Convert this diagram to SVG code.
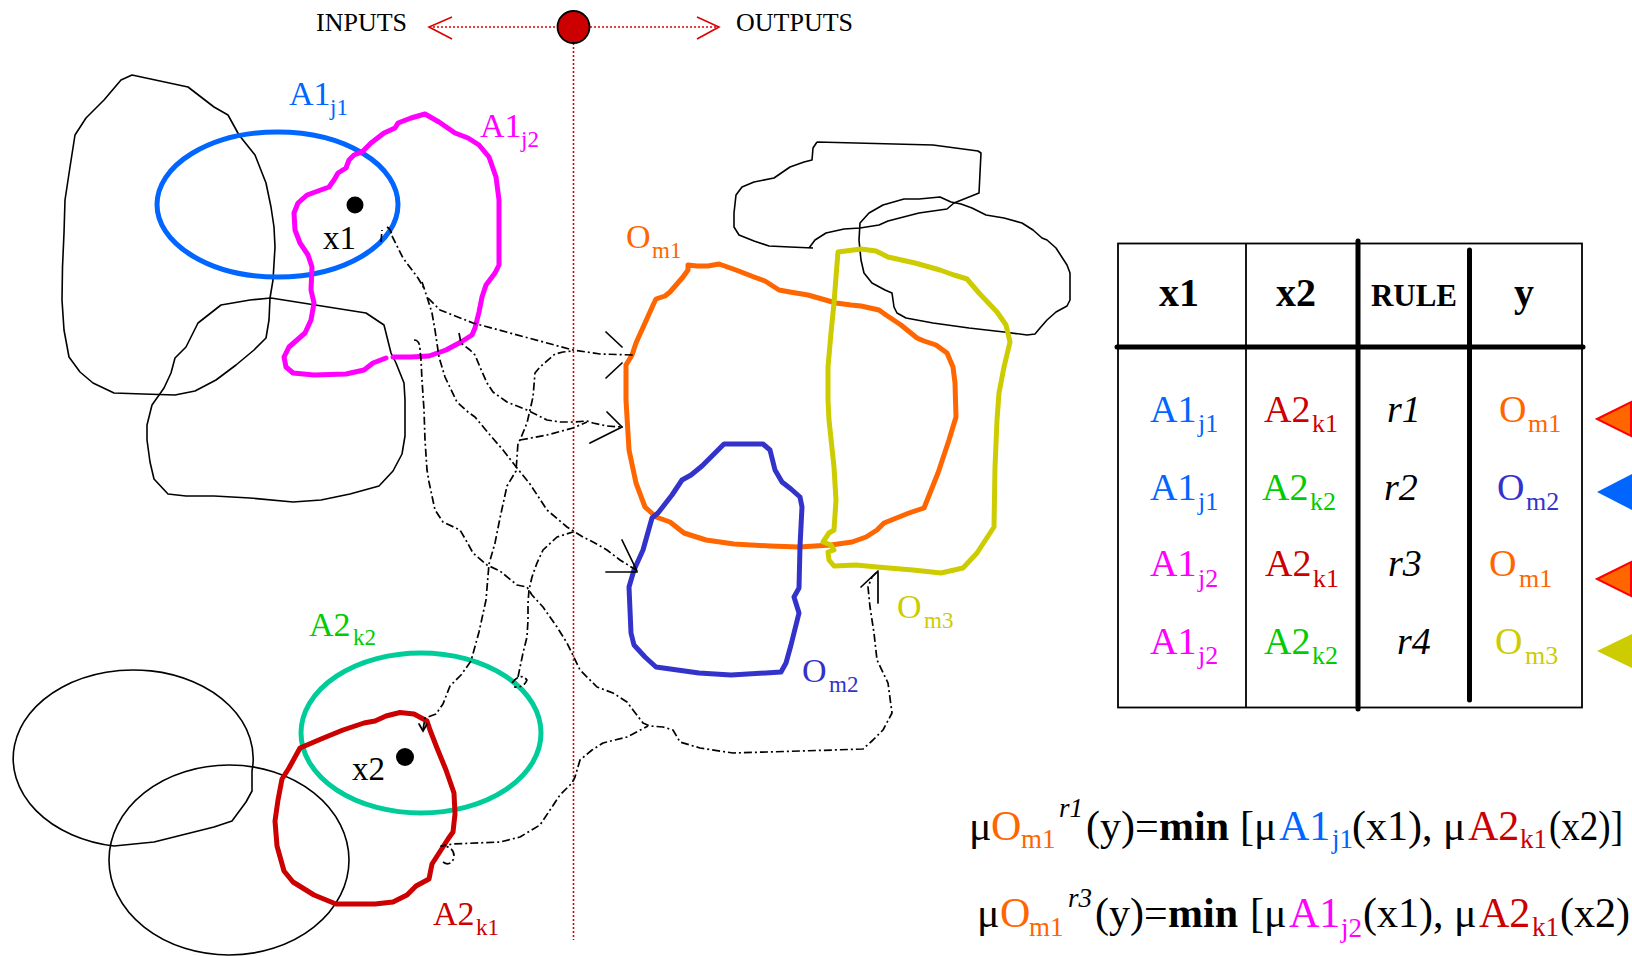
<svg xmlns="http://www.w3.org/2000/svg" width="1632" height="956" viewBox="0 0 1632 956">
<defs>
<style>
text{font-family:"Liberation Serif","Times New Roman",serif;}
.lbl{font-size:34px;}
.sub{font-size:23px;}
.io{font-size:26px;fill:#000;}
.thin{fill:none;stroke:#000;stroke-width:1.6;stroke-linejoin:round;}
.fz{fill:none;stroke-width:5;stroke-linejoin:round;stroke-linecap:round;}
.dot{fill:none;stroke:#dd0000;stroke-width:1.6;stroke-dasharray:2 2;}
.chev{fill:none;stroke:#dd0000;stroke-width:1.6;}
.dd{fill:none;stroke:#000;stroke-width:1.7;stroke-dasharray:8 3 2 3;stroke-linejoin:round;}
.ah{fill:none;stroke:#000;stroke-width:1.7;stroke-linecap:round;}
.tl{stroke:#000;stroke-width:1.8;fill:none;}
.tk{stroke:#000;stroke-width:5;stroke-linecap:round;}
.hd{font-size:40px;font-weight:bold;text-anchor:middle;}
.hds{font-size:31px;font-weight:bold;text-anchor:middle;}
.rw{font-size:38px;}
.rs{font-size:26px;}
.fm{font-size:42px;}
.fs{font-size:27px;}
</style>
</defs>
<rect width="1632" height="956" fill="#fff"/>

<g id="io-axis">
<line class="dot" x1="429" y1="27" x2="557" y2="27"/>
<line class="dot" x1="590" y1="27" x2="718" y2="27"/>
<line class="dot" x1="573.5" y1="43" x2="573.5" y2="940"/>
<polyline class="chev" points="452,17 429,27 452,39"/>
<polyline class="chev" points="697,17 719,27 697,39"/>
<circle cx="573.5" cy="27" r="16" fill="#cc0000" stroke="#000" stroke-width="1.8"/>
</g>
<g id="inputs-label"><text class="io" x="316" y="31">INPUTS</text></g>
<g id="outputs-label"><text class="io" x="736" y="31">OUTPUTS</text></g>

<g id="x1-universe">
<path class="thin" d="M132,75 L121,80 L104,100 L86,118 L75,135 L70,167 L65,200 L64,233 L62.5,267 L62,300 L64,330 L69,357 L80,372 L93,383 L114,393 L143,394 L175,395 L195,391 L216,380 L236,365 L254,350 L266,338 L269,320 L270,298 L273,280 L275,247 L274,227 L271,207 L266,183 L255,155 L239,135 L228,115 L214,107 L188,87 Z"/>
<path class="thin" d="M271,298 L250,300 L221,305 L198,323 L186,347 L175,358 L171,373 L164,388 L152,405 L147,425 L147,440 L150,462 L154,479 L168,494 L186,496 L214,496 L250,498 L293,502 L321,500 L350,494 L379,486 L393,471 L402,454 L405,436 L405,400 L404,383 L396,363 L391,353 L384,325 L366,313 Z"/>
</g>

<g id="A1j1">
<ellipse cx="277.5" cy="204.5" rx="120.5" ry="72.5" class="fz" stroke="#0066ff"/>
<text class="lbl" fill="#0066ff"><tspan x="289" y="105">A1</tspan><tspan class="sub" x="330" y="115">j1</tspan></text>
</g>

<g id="A1j2">
<path class="fz" stroke="#ff00ff" d="M386,358 L373,363 L364,370 L346,374 L314,375 L293,373 L286,367 L284,357 L289,347 L305,333 L311,320 L314,303 L311,290 L312,267 L308,255 L300,243 L295,230 L294,213 L298,203 L307,195 L329,187 L334,180 L338,173 L346,168 L349,160 L354,155 L362,152 L371,143 L384,133 L395,128 L398,123 L411,118 L425,114 L439,122 L455,133 L468,138 L479,145 L489,157 L496,177 L499,200 L499,233 L499,265 L495,273 L486,285 L482,297 L479,312 L475,328 L472,335 L461,342 L446,350 L429,356 L411,357 L393,357"/>
<text class="lbl" fill="#ff00ff"><tspan x="480" y="137">A1</tspan><tspan class="sub" x="521" y="147">j2</tspan></text>
</g>

<g id="x1">
<circle cx="355" cy="205" r="8.5" fill="#000"/>
<text x="323" y="249" font-size="33">x1</text>
</g>

<g id="y-universe">
<path class="thin" d="M817,142 L813,148 L812,160 L804,162 L790,167 L774,178 L754,182 L742,187 L736,195 L734,213 L734,227 L739,235 L754,241 L769,246 L790,247 L813,248 M809,248 L815,240 L826,233 L844,229 L860,228 L879,225 L888,221 L919,213 L947,209 L954,203 L979,193 L981,153 L978,151 L933,145 L817,142"/>
<path class="thin" d="M940,197 L919,199 L904,199 L883,205 L869,213 L860,223 L859,240 L861,260 L864,273 L872,283 L885,290 L892,293 L894,307 L897,313 L906,318 L933,323 L969,328 L1004,332 L1027,335 L1035,334 L1040,328 L1047,320 L1056,312 L1067,306 L1070,300 L1070,273 L1067,265 L1056,248 L1047,240 L1042,238 L1033,230 L1022,223 L1004,218 L986,215 L972,208 L961,204 L951,202 Z"/>
</g>

<g id="Om1">
<path class="fz" stroke="#ff6600" d="M688,265 L697,266 L708,266 L719,264 L736,270 L754,277 L765,281 L779,290 L790,292 L808,295 L836,303 L851,305 L861,306 L879,310 L886,315 L901,325 L917,338 L924,341 L936,345 L947,353 L953,367 L955,383 L956,417 L949,440 L938,473 L924,508 L909,513 L899,517 L884,523 L877,530 L866,537 L852,542 L831,545 L799,547 L770,546 L734,544 L706,540 L684,533 L670,522 L656,517 L645,507 L636,483 L629,450 L626,400 L626,365 L632,355 L636,343 L645,323 L654,303 L656,299 L665,296 L670,292 L683,277 L688,270 Z"/>
<text class="lbl" fill="#ff6600"><tspan x="626" y="248">O</tspan><tspan class="sub" x="652" y="258">m1</tspan></text>
</g>

<g id="Om3">
<path class="fz" stroke="#cccc00" d="M838,252 L861,249 L876,251 L888,257 L915,263 L940,270 L954,275 L967,279 L979,293 L997,312 L1006,325 L1010,342 L1004,367 L999,393 L997,420 L995,467 L994,527 L977,553 L963,568 L941,573 L913,570 L877,567 L856,565 L834,566 L829,560 L828,552 L834,550 L831,545 L823,542 L829,533 L834,530 L836,500 L834,467 L829,420 L828,400 L828,367 L831,333 L834,303 L836,277 Z"/>
<text class="lbl" fill="#cccc00"><tspan x="897" y="618">O</tspan><tspan class="sub" x="924" y="628">m3</tspan></text>
</g>

<g id="Om2">
<path class="fz" stroke="#3333cc" d="M724,444 L763,444 L770,450 L775,470 L782,482 L791,489 L800,497 L802,507 L800,546 L799,588 L794,597 L799,613 L791,645 L786,663 L781,672 L731,675 L699,673 L656,667 L645,657 L634,645 L631,633 L629,587 L634,570 L643,550 L652,518 L658,513 L672,495 L682,480 L691,475 L702,466 Z"/>
<text class="lbl" fill="#3333cc"><tspan x="802" y="682">O</tspan><tspan class="sub" x="829" y="692">m2</tspan></text>
</g>

<g id="x2-universe">
<path class="thin" d="M114,846 A120 88.6 0 1 1 252,771 L252,791 L246,802 L232,821 L214,827 L186,834 L154,842 Z"/>
<ellipse class="thin" cx="229" cy="860" rx="120" ry="95"/>
</g>

<g id="A2k2">
<ellipse cx="421" cy="733" rx="120" ry="80" class="fz" stroke="#00cc99"/>
<text class="lbl" fill="#00cc00"><tspan x="309" y="636">A2</tspan><tspan class="sub" x="353" y="645">k2</tspan></text>
</g>

<g id="A2k1">
<path class="fz" stroke="#cc0000" d="M300,748 L321,739 L343,730 L364,723 L375,721 L386,716 L400,712.5 L414,714 L427,721 L430,730 L437,748 L446,770 L454,793 L455,814 L453,832 L448,839 L441,850 L432,864 L429,879 L416,886 L407,895 L393,902 L375,904 L336,904 L314,895 L293,882 L284,871 L277,846 L275,821 L278,800 L282,779 L289,768 Z"/>
<text class="lbl" fill="#cc0000"><tspan x="433" y="925">A2</tspan><tspan class="sub" x="476" y="935">k1</tspan></text>
</g>

<g id="x2">
<circle cx="405" cy="757" r="9" fill="#000"/>
<text x="352" y="780" font-size="33">x2</text>
</g>

<g id="connectors">
<path class="dd" d="M381,242 L382,230 M387,227 Q391,229 392,236"/>
<path class="dd" d="M392,236 L403,258 L418,278 L425,290"/>
<path class="dd" d="M428,298 L440,310 L473,323 L510,333 L547,343 L573,350 L600,354 L633,355"/>
<path class="dd" d="M422,282 L427,297 L432,313 L435,330 L439,357 L445,377 L457,402 L468,412 L475,417 L490,435 L503,450 L517,468 L530,484 L547,510 L567,527 L583,537 L593,542 L607,550 L620,560 L636,570"/>
<path class="dd" d="M414,340 Q420,340 420,350 L421,360 L422,380 L424,410 L425,440 L427,470 L429,482 L435,510 L443,522 L460,530 L467,542 L473,553 L487,565 L500,571 L517,585 L527,587 L532,595 L543,607 L557,627 L567,643 L580,670 L597,687 L613,693 L627,702 L633,710 L643,723 L650,726 L663,727 L673,730 L680,742 L700,748 L733,753 L767,752 L800,751 L833,750 L863,749 L873,740 L883,730 L892,713 L888,683 L877,660 L874,633 L870,607 L868,587 L872,577 L878,571"/>
<path class="dd" d="M459,333 L461,343 L470,350 L475,355 L480,367 L487,383 L493,392 L500,397 L507,402 L527,410 L547,420 L560,422 L573,422 L587,421 L593,423 L607,426 L622,427"/>
<path class="dd" d="M423,730 L425,718 L436,714 L443,704 L450,686 L461,675 L471,661 L479,632 L486,600 L489,564 L495,543 L500,518 L507,486 L516,471 L518,443 L520,440 L527,423 L530,410 L533,397 L535,373 L540,367 L555,354 L563,352 L573,351"/>
<path class="dd" d="M520,440 L547,435 L573,428 L587,422"/>
<path class="dd" d="M512,683 Q520,672 527,680 Q524,688 514,687 M518,677 L523,653 L527,637 L528,620 L528,603 L529,590 L532,577 L537,563 L543,550 L557,537 L573,532"/>
<path class="dd" d="M443,862 Q450,867 454,858 Q455,846 441,846 L453,844 L500,842 L520,837 L540,825 L550,810 L560,795 L572,783 L575,777 L580,760 L592,750 L603,743 L627,737 L648,726"/>
<polyline class="ah" points="419,724 423,731 427,724"/>
<line class="ah" x1="606" y1="332" x2="622" y2="347"/>
<line class="ah" x1="606" y1="378" x2="622" y2="363"/>
<line class="ah" x1="607" y1="412" x2="622" y2="427"/>
<line class="ah" x1="590" y1="443" x2="622" y2="427"/>
<line class="ah" x1="622" y1="540" x2="637" y2="571"/>
<line class="ah" x1="606" y1="572" x2="637" y2="572"/>
<line class="ah" x1="878" y1="572" x2="878" y2="603"/>
<line class="ah" x1="861" y1="587" x2="878" y2="571"/>
</g>

<g id="rule-table">
<rect class="tl" x="1118" y="243.5" width="464" height="464"/>
<line class="tl" x1="1246" y1="243.5" x2="1246" y2="707.5"/>
<line class="tk" x1="1358" y1="241" x2="1358" y2="709"/>
<line class="tk" x1="1469.5" y1="250" x2="1469.5" y2="700"/>
<line class="tk" x1="1117" y1="347" x2="1583" y2="347"/>
<text class="hd" x="1179" y="306">x1</text>
<text class="hd" x="1296" y="306">x2</text>
<text class="hds" x="1414" y="306">RULE</text>
<text class="hd" x="1524" y="306">y</text>
<text class="rw" fill="#0066ff"><tspan x="1150" y="422">A1</tspan><tspan class="rs" x="1198" y="432">j1</tspan></text>
<text class="rw" fill="#cc0000"><tspan x="1264" y="422">A2</tspan><tspan class="rs" x="1312" y="432">k1</tspan></text>
<text class="rw" font-style="italic" x="1387" y="422">r1</text>
<text class="rw" fill="#ff6600"><tspan x="1499" y="422">O</tspan><tspan class="rs" x="1528" y="432">m1</tspan></text>
<text class="rw" fill="#0066ff"><tspan x="1150" y="500">A1</tspan><tspan class="rs" x="1198" y="510">j1</tspan></text>
<text class="rw" fill="#00cc00"><tspan x="1262" y="500">A2</tspan><tspan class="rs" x="1310" y="510">k2</tspan></text>
<text class="rw" font-style="italic" x="1384" y="500">r2</text>
<text class="rw" fill="#3333cc"><tspan x="1497" y="500">O</tspan><tspan class="rs" x="1526" y="510">m2</tspan></text>
<text class="rw" fill="#ff00ff"><tspan x="1150" y="576">A1</tspan><tspan class="rs" x="1198" y="587">j2</tspan></text>
<text class="rw" fill="#cc0000"><tspan x="1265" y="576">A2</tspan><tspan class="rs" x="1313" y="587">k1</tspan></text>
<text class="rw" font-style="italic" x="1388" y="576">r3</text>
<text class="rw" fill="#ff6600"><tspan x="1489" y="576">O</tspan><tspan class="rs" x="1519" y="587">m1</tspan></text>
<text class="rw" fill="#ff00ff"><tspan x="1150" y="654">A1</tspan><tspan class="rs" x="1198" y="664">j2</tspan></text>
<text class="rw" fill="#00cc00"><tspan x="1264" y="654">A2</tspan><tspan class="rs" x="1312" y="664">k2</tspan></text>
<text class="rw" font-style="italic" x="1397" y="654">r4</text>
<text class="rw" fill="#cccc00"><tspan x="1495" y="654">O</tspan><tspan class="rs" x="1525" y="664">m3</tspan></text>
</g>

<g id="rule-markers">
<polygon points="1597,419 1631,402 1631,436" fill="#ff6600" stroke="#ff0000" stroke-width="2"/>
<polygon points="1597,492 1632,474 1632,510" fill="#0066ff"/>
<polygon points="1597,579 1631,562 1631,596" fill="#ff6600" stroke="#ff0000" stroke-width="2"/>
<polygon points="1597,651 1632,634 1632,668" fill="#cccc00"/>
</g>

<g id="formula-r1">
<text class="fm"><tspan x="969" y="840">μ</tspan><tspan x="991" y="840" fill="#ff6600">O</tspan><tspan class="fs" x="1021" y="848" fill="#ff6600">m1</tspan><tspan class="fs" x="1059" y="817" font-style="italic">r1</tspan><tspan x="1086" y="840">(y)=</tspan><tspan x="1159" y="840" font-weight="bold">min</tspan><tspan x="1240" y="840">[μ</tspan><tspan x="1279" y="840" fill="#0066ff">A1</tspan><tspan class="fs" x="1332" y="848" fill="#0066ff">j1</tspan><tspan x="1352" y="840">(x1), μ</tspan><tspan x="1468" y="840" fill="#cc0000">A2</tspan><tspan class="fs" x="1520" y="848" fill="#cc0000">k1</tspan><tspan x="1549" y="840" textLength="74" lengthAdjust="spacingAndGlyphs">(x2)]</tspan></text>
</g>
<g id="formula-r3">
<text class="fm"><tspan x="977" y="927">μ</tspan><tspan x="1000" y="927" fill="#ff6600">O</tspan><tspan class="fs" x="1029" y="936" fill="#ff6600">m1</tspan><tspan class="fs" x="1068" y="907" font-style="italic">r3</tspan><tspan x="1095" y="927">(y)=</tspan><tspan x="1168" y="927" font-weight="bold">min</tspan><tspan x="1250" y="927">[μ</tspan><tspan x="1289" y="927" fill="#ff00ff">A1</tspan><tspan class="fs" x="1341" y="937" fill="#ff00ff">j2</tspan><tspan x="1363" y="927">(x1), μ</tspan><tspan x="1479" y="927" fill="#cc0000">A2</tspan><tspan class="fs" x="1532" y="936" fill="#cc0000">k1</tspan><tspan x="1560" y="927">(x2)</tspan></text>
</g>
</svg>
